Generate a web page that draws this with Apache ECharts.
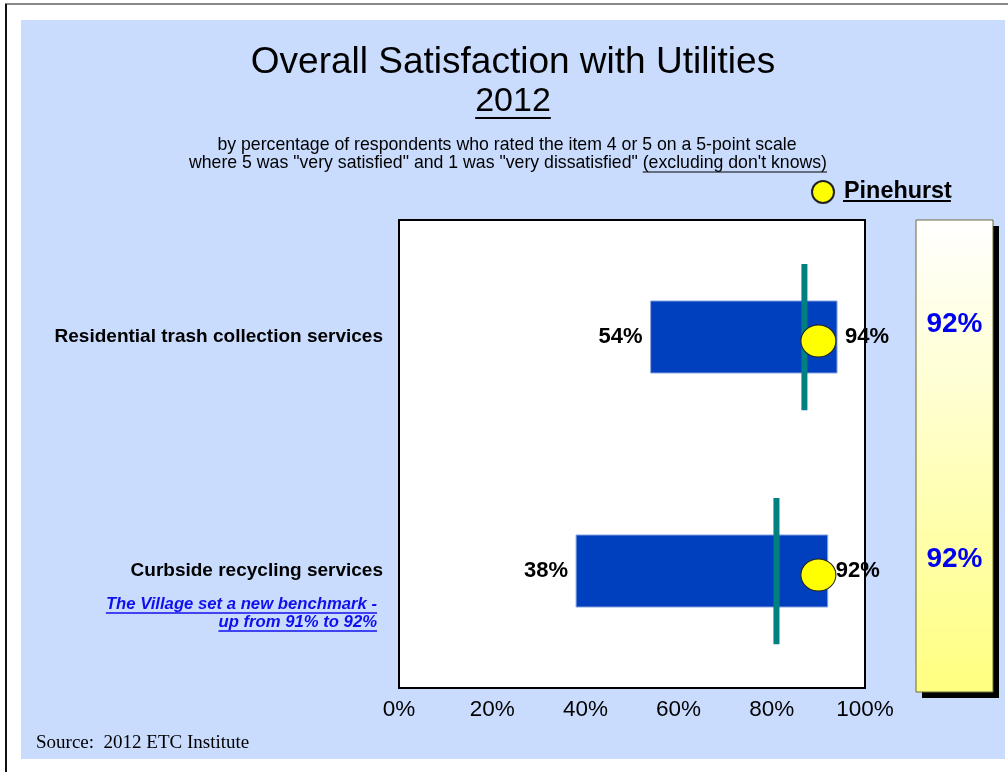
<!DOCTYPE html>
<html>
<head>
<meta charset="utf-8">
<script src="https://cdn.jsdelivr.net/npm/echarts@6/dist/echarts.min.js"></script>
<style>
html,body{margin:0;padding:0;background:#fff;}
#chart{width:1008px;height:772px;}
</style>
</head>
<body>
<div id="chart"></div>
<script>
// ---- data ----
const categories = ['Residential trash collection services', 'Curbside recycling services'];
const lowValues = [54, 38];
const highValues = [94, 92];
const benchmarkValues = [87, 81];
const pinehurstValues = [90, 90];
const villageValues = [92, 92];
const xTicks = [0, 20, 40, 60, 80, 100];

const FONT = '"Liberation Sans", Arial, sans-serif';
function tw(text, font) {
  const c = document.createElement('canvas').getContext('2d');
  c.font = font;
  return c.measureText(text).width;
}

const chart = echarts.init(document.getElementById('chart'), null, {renderer: 'canvas'});

const rangeData = categories.map((c, i) => [lowValues[i], highValues[i], i]);
const benchData = categories.map((c, i) => [benchmarkValues[i], i]);
const pineData = categories.map((c, i) => [pinehurstValues[i], i]);
const villageData = categories.map((c, i) => [0.5, i, villageValues[i]]);

// text metrics for underlines
const f2012 = '34px ' + FONT;
const w2012 = tw('2012', f2012);
const fSub = '17.7px ' + FONT;
const sub2a = 'where 5 was "very satisfied" and 1 was "very dissatisfied" ';
const sub2b = '(excluding don\'t knows)';
const wSub2a = tw(sub2a, fSub), wSub2b = tw(sub2b, fSub);
const sub2Left = 508 - (wSub2a + wSub2b) / 2;
const fPine = 'bold 23.4px ' + FONT;
const wPine = tw('Pinehurst', fPine);
const fNote = 'italic bold 16.7px ' + FONT;
const note1 = 'The Village set a new benchmark -';
const note2 = 'up from 91% to 92%';
const wNote1 = tw(note1, fNote), wNote2 = tw(note2, fNote);

const option = {
  animation: false,
  backgroundColor: '#fff',
  legend: {
    data: ['Pinehurst'],
    left: 811, top: 180, padding: 0,
    itemWidth: 22, itemHeight: 22,
    icon: 'circle',
    textStyle: {fontFamily: FONT, fontWeight: 'bold', fontSize: 23.4, color: '#000', padding: [0, 0, 0, 5]}
  },
  grid: [
    {left: 399, right: 143, top: 220, bottom: 84, show: true, backgroundColor: '#fff', borderColor: '#000', borderWidth: 2, z: 1},
    {left: 916, width: 77, top: 220, height: 470, show: false}
  ],
  xAxis: [
    {
      type: 'value', gridIndex: 0, min: 0, max: 100, interval: 20,
      axisLine: {show: true, lineStyle: {color: '#000', width: 2}},
      axisTick: {show: true, inside: true, length: 5, lineStyle: {color: '#555'}},
      axisLabel: {formatter: v => xTicks.includes(v) ? v + '%' : '', fontFamily: FONT, fontSize: 22.5, color: '#000', margin: 10},
      splitLine: {show: true, lineStyle: {color: '#333', width: 1, type: [7, 5]}}
    },
    {type: 'value', gridIndex: 1, min: 0, max: 1, show: false}
  ],
  yAxis: [
    {
      type: 'category', gridIndex: 0, data: categories, inverse: true,
      axisLine: {show: false}, axisTick: {show: false},
      axisLabel: {fontFamily: FONT, fontWeight: 'bold', fontSize: 19, color: '#000', margin: 16}
    },
    {type: 'category', gridIndex: 1, data: categories, inverse: true, show: false}
  ],
  series: [
    {
      type: 'custom', name: 'Range', xAxisIndex: 0, yAxisIndex: 0, z: 2,
      data: rangeData,
      encode: {x: [0, 1], y: 2},
      renderItem: function (params, api) {
        const cat = api.value(2);
        const p0 = api.coord([api.value(0), cat]);
        const p1 = api.coord([api.value(1), cat]);
        const h = api.size([0, 1])[1] * 0.308;
        return {
          type: 'group',
          children: [
            {type: 'rect', shape: {x: p0[0], y: p0[1] - h / 2, width: p1[0] - p0[0], height: h},
             style: {fill: '#0040BF', stroke: '#8fa8e0', lineWidth: 1}},
            {type: 'text', style: {text: api.value(0) + '%', x: p0[0] - 8, y: p0[1], align: 'right', verticalAlign: 'middle',
              font: 'bold 22px ' + FONT, fill: '#000'}},
            {type: 'text', z2: 10, style: {text: api.value(1) + '%', x: p1[0] + 8, y: p0[1], align: 'left', verticalAlign: 'middle',
              font: 'bold 22px ' + FONT, fill: '#000'}}
          ]
        };
      }
    },
    {
      type: 'custom', name: 'Benchmark', xAxisIndex: 0, yAxisIndex: 0, z: 3,
      data: benchData,
      encode: {x: 0, y: 1},
      renderItem: function (params, api) {
        const p = api.coord([api.value(0), api.value(1)]);
        const h = api.size([0, 1])[1] * 0.625;
        return {type: 'rect', shape: {x: p[0] - 3, y: p[1] - h / 2, width: 6, height: h}, style: {fill: '#008080'}};
      }
    },
    {
      type: 'scatter', name: 'Pinehurst', xAxisIndex: 0, yAxisIndex: 0, z: 4,
      data: pineData,
      symbol: 'circle', symbolSize: [35, 32], symbolOffset: [0, 4],
      itemStyle: {color: '#FFFF00', borderColor: '#222', borderWidth: 1, opacity: 1}
    },
    {
      type: 'scatter', name: 'Village', xAxisIndex: 1, yAxisIndex: 1, z: 5,
      data: villageData,
      symbolSize: 1,
      itemStyle: {color: 'rgba(0,0,0,0)'},
      label: {show: true, position: 'inside', offset: [0, -13], formatter: p => p.value[2] + '%',
        fontFamily: FONT, fontWeight: 'bold', fontSize: 28, color: '#0000F0', opacity: 1}
    }
  ],
  graphic: [
    {type: 'rect', z: -20, shape: {x: 21, y: 20, width: 984, height: 739}, style: {fill: '#C9DCFE'}},
    {type: 'line', z: -19, shape: {x1: 5, y1: 4, x2: 1008, y2: 4}, style: {stroke: '#888', lineWidth: 2}},
    {type: 'line', z: -19, shape: {x1: 6, y1: 4, x2: 6, y2: 772}, style: {stroke: '#111', lineWidth: 2}},
    // right panel
    {type: 'rect', z: -5, shape: {x: 922, y: 226, width: 77, height: 472}, style: {fill: '#000'}},
    {type: 'rect', z: -4, shape: {x: 916, y: 220, width: 77, height: 472},
      style: {fill: new echarts.graphic.LinearGradient(0, 0, 0, 1, [{offset: 0, color: '#FFFFFF'}, {offset: 1, color: '#FFFF80'}]),
        stroke: '#6b6b40', lineWidth: 1}},
    // titles
    {type: 'text', z: 5, style: {text: 'Overall Satisfaction with Utilities', x: 513, y: 63, align: 'center', verticalAlign: 'middle',
      font: '37px ' + FONT, fill: '#000'}},
    {type: 'text', z: 5, style: {text: '2012', x: 513, y: 102, align: 'center', verticalAlign: 'middle', font: f2012, fill: '#000'}},
    {type: 'line', z: 5, shape: {x1: 513 - w2012 / 2, y1: 118, x2: 513 + w2012 / 2, y2: 118}, style: {stroke: '#000', lineWidth: 2}},
    {type: 'text', z: 5, style: {text: 'by percentage of respondents who rated the item 4 or 5 on a 5-point scale', x: 507, y: 145,
      align: 'center', verticalAlign: 'middle', font: fSub, fill: '#000'}},
    {type: 'text', z: 5, style: {text: sub2a + sub2b, x: sub2Left, y: 163, align: 'left', verticalAlign: 'middle', font: fSub, fill: '#000'}},
    {type: 'line', z: 5, shape: {x1: sub2Left + wSub2a, y1: 172, x2: sub2Left + wSub2a + wSub2b, y2: 172}, style: {stroke: '#000', lineWidth: 1}},
    // legend underline
    {type: 'line', z: 5, shape: {x1: 843, y1: 201, x2: 843 + wPine, y2: 201}, style: {stroke: '#000', lineWidth: 2}},
    // note
    {type: 'text', z: 5, style: {text: note1, x: 377, y: 604, align: 'right', verticalAlign: 'middle', font: fNote, fill: '#1010EE'}},
    {type: 'line', z: 5, shape: {x1: 377 - wNote1, y1: 613, x2: 377, y2: 613}, style: {stroke: '#1010EE', lineWidth: 1.5}},
    {type: 'text', z: 5, style: {text: note2, x: 377, y: 622, align: 'right', verticalAlign: 'middle', font: fNote, fill: '#1010EE'}},
    {type: 'line', z: 5, shape: {x1: 377 - wNote2, y1: 631, x2: 377, y2: 631}, style: {stroke: '#1010EE', lineWidth: 1.5}},
    // source
    {type: 'text', z: 5, style: {text: 'Source:  2012 ETC Institute', x: 36, y: 743, align: 'left', verticalAlign: 'middle',
      font: '19px "Liberation Serif", "Times New Roman", serif', fill: '#000'}}
  ]
};
chart.setOption(option);
</script>
</body>
</html>
